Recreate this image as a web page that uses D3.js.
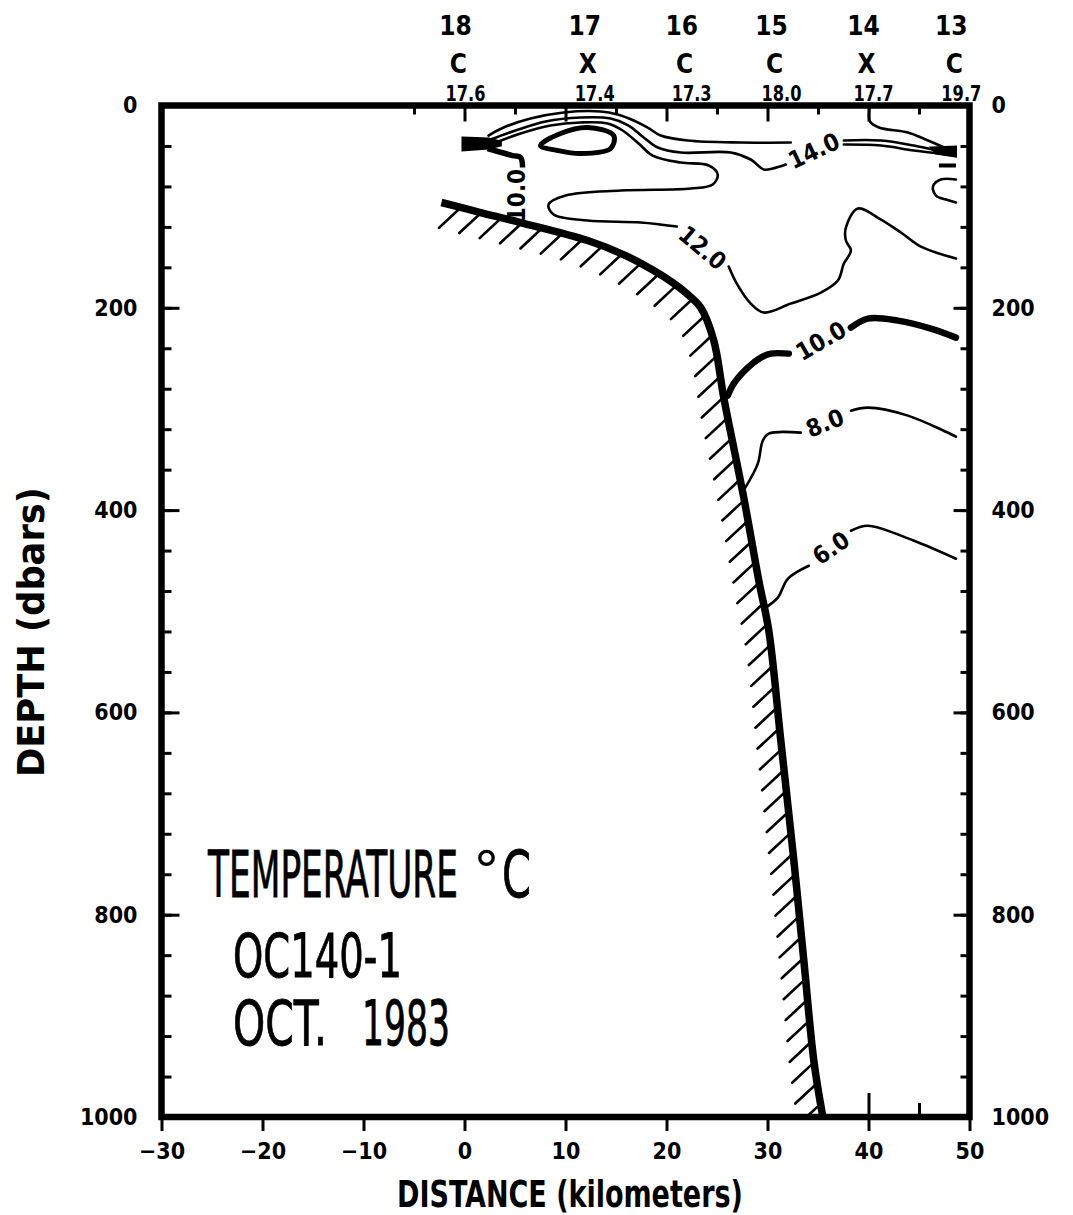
<!DOCTYPE html>
<html lang="en">
<head>
<meta charset="UTF-8">
<title>Temperature OC140-1</title>
<script src="https://d3js.org/d3.v7.min.js"></script>
<style>
  body { margin: 0; background: #fff; }
  svg { display: block; background: #fff; }
</style>
</head>
<body>
<svg width="1073" height="1215"></svg>
<script>

// axis ticks
const xTickValues = [-30, -20, -10, 0, 10, 20, 30, 40, 50];
const yTickValues = [0, 200, 400, 600, 800, 1000];
const yMinorTicks = d3.range(0, 1001, 40);

// stations along the top
const stationNum = ["18", "17", "16", "15", "14", "13"];
const stationType = ["C", "X", "C", "C", "X", "C"];
const stationVal = ["17.6", "17.4", "17.3", "18.0", "17.7", "19.7"];
const stationKm = [-0.6, 12.2, 21.8, 30.7, 39.8, 48.5];

// bottom profile [km, dbar]
const bottomProfile = [[-2.28, 95.9], [1.59, 105.8], [5.55, 115.7], [12.19, 133.5], [15.96, 148.4],
  [18.73, 163.2], [20.61, 175.1], [21.90, 185.0], [23.39, 199.8], [24.68, 232.4], [25.67, 288.8],
  [27.65, 387.7], [29.14, 469.8], [30.13, 519.3], [31.32, 628.1], [32.51, 736.9], [33.60, 845.7],
  [34.59, 944.6], [35.48, 1000]];

// isotherms (thin)
const contourL1a = [[2.38, 29.7], [3.87, 21.8], [6.54, 12.9], [9.81, 6.9], [13.48, 5.9], [15.16, 8.9],
  [16.75, 14.8], [18.14, 21.8], [19.43, 29.7], [22.10, 34.6], [27.35, 36.6], [32.31, 36.6]];
const contourL1b = [[37.56, 34.6], [41.23, 34.6], [44.50, 39.6], [46.68, 44.5]];
const contour14a = [[2.58, 33.6], [5.05, 24.7], [8.03, 15.8], [11.50, 11.9], [14.47, 12.9], [16.25, 19.8],
  [17.74, 31.7], [19.13, 41.5], [21.41, 46.5], [26.36, 46.5], [28.34, 53.4], [29.63, 63.3], [30.53, 62.3], [31.81, 58.4]];
const contour14b = [[37.56, 38.6], [41.23, 39.6], [44.50, 44.5], [47.87, 48.5]];
const contour12a = [[2.87, 37.6], [5.55, 27.7], [8.52, 19.8], [11.50, 16.8], [14.17, 17.8], [15.66, 24.7],
  [17.24, 37.6], [18.63, 49.5], [21.41, 56.4], [24.18, 59.3], [25.07, 68.2], [24.58, 78.1], [22.40, 82.1],
  [15.46, 84.1], [10.01, 89.0], [8.32, 97.9], [8.82, 107.8], [12.19, 113.7], [17.44, 115.7], [21.01, 119.7]];
const contour12b = [[26.16, 159.2], [26.96, 176.1], [28.34, 195.8], [29.63, 204.7], [32.31, 195.8],
  [35.28, 185.0], [36.97, 173.1], [37.56, 156.3], [38.26, 143.4], [37.76, 133.5], [37.76, 120.7],
  [38.95, 101.9], [41.23, 112.8], [43.21, 125.6], [45.19, 139.5], [48.66, 151.3]];
const contourSt14 = [[40.14, 0], [40.14, 15.8], [41.03, 21.8], [43.90, 26.7], [45.89, 34.6], [48.17, 44.5]];
const contourHook = [[48.66, 73.2], [47.17, 73.2], [46.38, 80.1], [46.68, 89.0], [47.67, 93.0], [48.66, 95.9]];
const contour8a = [[27.8, 377.8], [29.04, 354.1], [29.53, 331.4], [30.13, 324.4], [33.30, 323.4]];
const contour8b = [[38.26, 301.7], [39.94, 298.7], [43.90, 306.6], [48.66, 327.4]];
const contour6a = [[29.8, 496.5], [31.02, 486.6], [32.01, 467.9], [34.09, 455.0]];
const contour6b = [[38.26, 420.4], [39.94, 415.4], [44.50, 430.3], [48.66, 448.1]];

// thick pieces
const contour10a = [[26.07, 286.8], [26.66, 275.0], [28.05, 259.2], [29.34, 249.3], [30.33, 245.3], [32.11, 245.3]];
const contour10b = [[38.26, 219.6], [39.94, 210.7], [42.91, 212.7], [46.18, 220.6], [48.66, 229.5]];
const contour10shelf = [[2.28, 42.5], [4.76, 49.5], [5.55, 51.4], [5.75, 61.3]];
const rightDash = [[46.98, 59.3], [48.66, 59.3]];
const eyeRing = [[7.53, 39.6], [9.51, 27.7], [12.19, 21.8], [14.77, 29.7], [14.47, 42.5], [11.50, 47.5], [9.22, 44.5]];
const leftBlob = [[-0.2, 31.7], [2.4, 32.6], [3.6, 35.6], [3.6, 39.6], [2.4, 42.5], [-0.2, 44.5]];
const rightBlob = [[46.18, 41.5], [48.66, 40.6], [48.66, 50.4], [46.68, 47.5]];

// contour labels
const labelText = ["14.0", "12.0", "10.0", "10.0", "8.0", "6.0"];
const labelKm = [34.59, 23.59, 5.15, 35.28, 35.68, 36.27];
const labelDbar = [44.5, 140.5, 89, 232.4, 313.6, 437.2];
const labelAngle = [-25, 40, -90, -30, -22, -35];

const titleLines = ["TEMPERATURE", "OC140-1", "OCT.", "1983"];

const font = "'DejaVu Sans Condensed', 'Liberation Sans Narrow', 'DejaVu Sans', sans-serif";

let svg = d3.select("svg");

const x = d3.scaleLinear().domain([-30, 50]).range([161.5, 969.5]);
const y = d3.scaleLinear().domain([0, 1000]).range([105.5, 1117]);

const line = d3.line()
    .x(d => x(d[0]))
    .y(d => y(d[1]))
    .curve(d3.curveCatmullRom.alpha(0.5));
const ring = d3.line()
    .x(d => x(d[0]))
    .y(d => y(d[1]))
    .curve(d3.curveCatmullRomClosed.alpha(0.5));
const poly = d3.line().x(d => x(d[0])).y(d => y(d[1])).curve(d3.curveLinearClosed);

// squeeze a text horizontally so it spans `width` pixels
function fitText(t, x0, y0, width, rot) {
    const w = t.node().getComputedTextLength();
    t.attr("x", 0).attr("y", 0)
        .attr("transform", `translate(${x0},${y0})` + (rot ? ` rotate(${rot})` : "") + ` scale(${width / w},1)`);
    return t;
}

svg.append("defs").append("clipPath").attr("id", "plot")
    .append("rect")
    .attr("x", x(-30)).attr("y", y(0))
    .attr("width", x(50) - x(-30)).attr("height", y(1000) - y(0) - 3);

// bottom line (path first so hatches can follow it)
let bottom = svg.append("path")
    .datum(bottomProfile)
    .attr("d", line)
    .attr("fill", "none");

// hatching on the sea floor side
const node = bottom.node();
const total = node.getTotalLength();
const hatch = [];
for (let s = 20; s < total; s += 21) hatch.push(node.getPointAtLength(s));
const dx = -0.73, dy = 0.68;
svg.append("g").attr("clip-path", "url(#plot)")
    .selectAll("line")
    .data(hatch)
    .enter()
    .append("line")
    .attr("x1", p => p.x + 3 * dx).attr("y1", p => p.y + 3 * dy)
    .attr("x2", p => p.x + 30 * dx).attr("y2", p => p.y + 30 * dy)
    .attr("stroke", "#000")
    .attr("stroke-width", 2.6)
    .attr("stroke-linecap", "round");

// thin isotherms
const thin = [contourL1a, contourL1b, contour14a, contour14b, contour12a, contour12b,
    contourSt14, contourHook, contour8a, contour8b, contour6a, contour6b];
svg.append("g").attr("class", "contours")
    .selectAll("path")
    .data(thin)
    .enter()
    .append("path")
    .attr("d", line)
    .attr("fill", "none")
    .attr("stroke", "#000")
    .attr("stroke-width", 2.6)
    .attr("stroke-linejoin", "round")
    .attr("stroke-linecap", "round");

// thick pieces
svg.append("g")
    .selectAll("path")
    .data([contour10a, contour10b])
    .enter()
    .append("path")
    .attr("d", line)
    .attr("fill", "none")
    .attr("stroke", "#000")
    .attr("stroke-width", 6.5)
    .attr("stroke-linecap", "round");

svg.append("path").datum(contour10shelf).attr("d", line)
    .attr("fill", "none").attr("stroke", "#000").attr("stroke-width", 5.5);
svg.append("path").datum(rightDash).attr("d", line)
    .attr("fill", "none").attr("stroke", "#000").attr("stroke-width", 4);
svg.append("path").datum(eyeRing).attr("d", ring)
    .attr("fill", "none").attr("stroke", "#000").attr("stroke-width", 5);
svg.selectAll("path.blob")
    .data([leftBlob, rightBlob])
    .enter()
    .append("path")
    .attr("class", "blob")
    .attr("d", poly)
    .attr("fill", "#000")
    .attr("stroke", "#000")
    .attr("stroke-width", 2);

// contour labels
svg.append("g")
    .selectAll("text")
    .data(labelText)
    .enter()
    .append("text")
    .attr("transform", (d, i) => `translate(${x(labelKm[i])},${y(labelDbar[i])}) rotate(${labelAngle[i]})`)
    .attr("text-anchor", "middle")
    .attr("dy", "0.36em")
    .style("font-family", font)
    .style("font-weight", "bold")
    .style("font-size", "24px")
    .text(d => d);

// the bottom itself
bottom.attr("stroke", "#000")
    .attr("stroke-width", 7.5)
    .attr("stroke-linejoin", "round");
bottom.raise();

// frame
svg.append("rect")
    .attr("x", x(-30)).attr("y", y(0))
    .attr("width", x(50) - x(-30)).attr("height", y(1000) - y(0))
    .attr("fill", "none")
    .attr("stroke", "#000")
    .attr("stroke-width", 6.5);

function styleAxis(g) {
    g.select(".domain").remove();
    g.selectAll("line").attr("stroke", "#000").attr("stroke-width", 3);
    g.selectAll("text")
        .attr("fill", "#000")
        .style("font-family", font)
        .style("font-weight", "bold")
        .style("font-size", "23px");
}

// left axis
svg.append("g").attr("transform", `translate(${x(-30)},0)`)
    .call(d3.axisLeft(y).tickValues(yMinorTicks).tickSize(-10).tickFormat(""))
    .call(styleAxis);
svg.append("g").attr("transform", `translate(${x(-30)},0)`)
    .call(d3.axisLeft(y).tickValues(yTickValues).tickSize(-18).tickPadding(24).tickFormat(d3.format("d")))
    .call(styleAxis);

// right axis
svg.append("g").attr("transform", `translate(${x(50)},0)`)
    .call(d3.axisRight(y).tickValues(yMinorTicks).tickSize(-9).tickFormat(""))
    .call(styleAxis);
svg.append("g").attr("transform", `translate(${x(50)},0)`)
    .call(d3.axisRight(y).tickValues(yTickValues).tickSize(-16).tickPadding(22).tickFormat(d3.format("d")))
    .call(styleAxis);

// bottom axis
svg.append("g").attr("transform", `translate(0,${y(1000)})`)
    .call(d3.axisBottom(x).tickValues(xTickValues).tickSize(14).tickPadding(12))
    .call(styleAxis);
svg.append("g").attr("transform", `translate(0,${y(1000)})`)
    .call(d3.axisBottom(x).tickValues([40]).tickSize(-24).tickFormat(""))
    .call(styleAxis);
svg.append("g").attr("transform", `translate(0,${y(1000)})`)
    .call(d3.axisBottom(x).tickValues([45]).tickSize(-14).tickFormat(""))
    .call(styleAxis);

// top axis
svg.append("g").attr("transform", `translate(0,${y(0)})`)
    .call(d3.axisTop(x).tickValues([0, 10, 20, 30, 40]).tickSize(-16).tickFormat(""))
    .call(styleAxis);
svg.append("g").attr("transform", `translate(0,${y(0)})`)
    .call(d3.axisTop(x).tickValues([-5, 5, 15, 25, 35, 45]).tickSize(-9).tickFormat(""))
    .call(styleAxis);

// station labels
let st = svg.append("g").attr("class", "stations")
    .style("font-family", font)
    .style("font-weight", "bold")
    .attr("text-anchor", "middle");
st.selectAll("text.num").data(stationNum).enter().append("text")
    .attr("class", "num")
    .attr("x", (d, i) => x(stationKm[i]) - 3)
    .attr("y", 35)
    .style("font-size", "26px")
    .text(d => d);
st.selectAll("text.typ").data(stationType).enter().append("text")
    .attr("class", "typ")
    .attr("x", (d, i) => x(stationKm[i]))
    .attr("y", 73)
    .style("font-size", "26px")
    .text(d => d);
st.selectAll("text.val").data(stationVal).enter().append("text")
    .attr("class", "val")
    .attr("text-anchor", "start")
    .style("font-size", "22px")
    .text(d => d)
    .each(function (d, i) {
        fitText(d3.select(this), x(stationKm[i]) - 13, 101, 40);
    });

// axis titles
fitText(svg.append("text")
    .style("font-family", font).style("font-weight", "bold").style("font-size", "38px")
    .text("DISTANCE (kilometers)"), 397, 1207, 346);
fitText(svg.append("text")
    .style("font-family", font).style("font-weight", "bold").style("font-size", "38px")
    .text("DEPTH (dbars)"), 44, 777, 290, -90);

// title block
const tf = "'DejaVu Sans', sans-serif";
function titleText(s, size) {
    return svg.append("text")
        .style("font-family", tf).style("font-size", size)
        .attr("stroke", "#000").attr("stroke-width", 0.9)
        .text(s);
}
fitText(titleText(titleLines[0], "64px"), 208, 897, 250);
svg.append("text").attr("x", 473).attr("y", 889)
    .style("font-family", tf).style("font-size", "54px").text("°");
fitText(titleText("C", "64px"), 502, 897, 29);
fitText(titleText(titleLines[1], "61px"), 233, 977, 169);
fitText(titleText(titleLines[2], "62px"), 233, 1045, 94);
fitText(titleText(titleLines[3], "62px"), 362, 1045, 88);

</script>
</body>
</html>
